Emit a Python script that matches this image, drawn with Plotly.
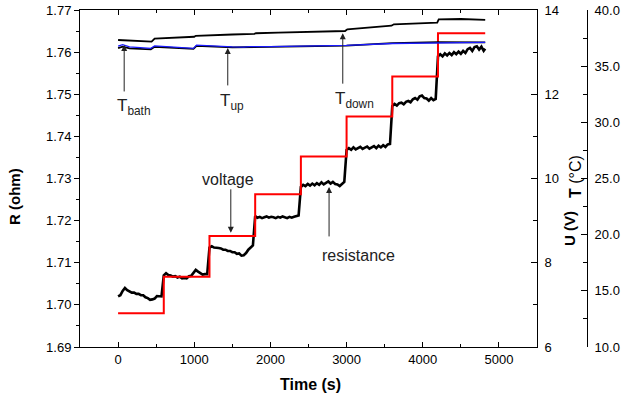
import plotly.graph_objects as go

# ---------------- data ----------------
step_starts = [0, 600, 1200, 1800, 2400, 3000, 3600, 4200]

# resistance (ohm), sampled every 30 s within each voltage step
r_step1 = [1.7020, 1.7023, 1.7033, 1.7040, 1.7035, 1.7032, 1.7029, 1.7029, 1.7026, 1.7026,
           1.7023, 1.7023, 1.7018, 1.7016, 1.7012, 1.7013, 1.7015, 1.7021, 1.7021, 1.7020]
r_step2 = [1.7070, 1.7075, 1.7071, 1.7070, 1.7067, 1.7068, 1.7065, 1.7067, 1.7063, 1.7064,
           1.7063, 1.7068, 1.7069, 1.7077, 1.7083, 1.7079, 1.7075, 1.7072, 1.7073, 1.7073]
r_step3 = [1.7136, 1.7139, 1.7136, 1.7136, 1.7135, 1.7134, 1.7131, 1.7131, 1.7128, 1.7128,
           1.7125, 1.7125, 1.7121, 1.7122, 1.7117, 1.7118, 1.7123, 1.7131, 1.7135, 1.7141]
r_step4 = [1.7211, 1.7207, 1.7209, 1.7206, 1.7208, 1.7210, 1.7207, 1.7209, 1.7208, 1.7206,
           1.7209, 1.7207, 1.7210, 1.7208, 1.7206, 1.7209, 1.7207, 1.7209, 1.7211, 1.7212]
r_step5 = [1.7280, 1.7285, 1.7282, 1.7287, 1.7283, 1.7288, 1.7284, 1.7289, 1.7285, 1.7291,
           1.7286, 1.7290, 1.7293, 1.7288, 1.7292, 1.7287, 1.7286, 1.7282, 1.7286, 1.7292]
r_step6 = [1.7368, 1.7372, 1.7368, 1.7374, 1.7369, 1.7373, 1.7375, 1.7370, 1.7374, 1.7376,
           1.7371, 1.7375, 1.7377, 1.7372, 1.7378, 1.7374, 1.7379, 1.7375, 1.7381, 1.7382]
r_step7 = [1.7472, 1.7477, 1.7473, 1.7479, 1.7480, 1.7476, 1.7482, 1.7484, 1.7481, 1.7488,
           1.7491, 1.7487, 1.7495, 1.7497, 1.7491, 1.7490, 1.7485, 1.7491, 1.7486, 1.7489]
r_step8 = [1.7590, 1.7595, 1.7590, 1.7597, 1.7592, 1.7598, 1.7593, 1.7600, 1.7595, 1.7601,
           1.7596, 1.7603, 1.7598, 1.7607, 1.7610, 1.7603, 1.7612, 1.7614, 1.7606, 1.7613,
           1.7603, 1.7608]
r_steps = [r_step1, r_step2, r_step3, r_step4, r_step5, r_step6, r_step7, r_step8]

# voltage (V) steps
u_times = [0, 600, 1200, 1800, 2400, 3000, 3600, 4200, 4820]
u_values = [6.80, 7.67, 8.635, 9.625, 10.52, 11.47, 12.42, 13.45, 13.45]

# temperatures (deg C)
t_down_times = [0, 100, 200, 300, 440, 480, 700, 1000, 1020, 1200, 1250, 1500, 1790, 1810,
                2100, 2400, 2420, 2700, 2980, 3010, 3300, 3590, 3620, 3900, 4190, 4210, 4500, 4820]
t_down_vals = [37.33, 37.30, 37.26, 37.23, 37.18, 37.45, 37.52, 37.62, 37.70, 37.72, 37.78,
               37.82, 37.87, 37.93, 37.98, 38.02, 38.07, 38.10, 38.13, 38.28, 38.45, 38.60,
               38.73, 38.80, 38.87, 39.17, 39.20, 39.12]

t_bath_times = [0, 60, 150, 300, 430, 480, 600, 900, 990, 1030, 1200, 1500, 1650, 1730,
                2000, 2500, 3000, 3600, 4200, 4820]
t_bath_vals = [36.78, 36.92, 36.72, 36.65, 36.58, 36.80, 36.75, 36.62, 36.58, 36.88, 36.80,
               36.72, 36.70, 36.74, 36.74, 36.77, 36.85, 37.02, 37.10, 37.12]

t_up_times = [0, 60, 150, 430, 480, 990, 1030, 1500, 2000, 2500, 3000, 3600, 4200, 4820]
t_up_vals = [36.60, 36.74, 36.58, 36.50, 36.72, 36.54, 36.80, 36.68, 36.72, 36.75, 36.82,
             37.06, 37.14, 37.12]

# ---------------- build resistance series ----------------
r_time, r_vals = [], []
for start, vals in zip(step_starts, r_steps):
    for k, v in enumerate(vals):
        r_time.append(start + 30 * k)
        r_vals.append(v)
r_time[-1] = 4820

FONT = "Liberation Sans, Arial, sans-serif"

fig = go.Figure()
fig.add_trace(go.Scatter(x=r_time, y=r_vals, mode="lines", line=dict(color="black", width=2.6),
                         yaxis="y", showlegend=False))
fig.add_trace(go.Scatter(x=u_times, y=u_values, mode="lines", line=dict(color="#ff0000", width=2, shape="hv"),
                         yaxis="y2", showlegend=False))
fig.add_trace(go.Scatter(x=t_up_times, y=t_up_vals, mode="lines", line=dict(color="black", width=1.8),
                         yaxis="y3", showlegend=False))
fig.add_trace(go.Scatter(x=t_bath_times, y=t_bath_vals, mode="lines", line=dict(color="#1a1aff", width=1.3),
                         yaxis="y3", showlegend=False))
fig.add_trace(go.Scatter(x=t_down_times, y=t_down_vals, mode="lines", line=dict(color="black", width=1.8),
                         yaxis="y3", showlegend=False))

L, R, T, B = 80, 37, 10, 54
W, H = 624, 401
PW, PH = W - L - R, H - T - B
xdom_end = (537 - L) / PW


def px(xp):
    return (xp - L) / PW


def py(yp):
    return (H - B - yp) / PH


fig.update_layout(
    width=W, height=H, margin=dict(l=L, r=R, t=T, b=B, autoexpand=False),
    paper_bgcolor="white", plot_bgcolor="white",
    font=dict(family=FONT, size=13, color="black"),
    xaxis=dict(domain=[0, xdom_end], range=[-500, 5500], dtick=1000, tick0=0,
               ticks="inside", ticklen=5, tickwidth=1, tickcolor="black",
               minor=dict(ticks="inside", ticklen=3, dtick=500, tick0=0, tickcolor="black"),
               showline=True, linecolor="black", linewidth=1, mirror="ticks", automargin=False,
               showgrid=False, zeroline=False, tickfont=dict(size=13)),
    yaxis=dict(range=[1.69, 1.77], dtick=0.01, tick0=1.69, tickformat=".2f",
               ticks="outside", ticklen=5, tickwidth=1, tickcolor="black",
               minor=dict(ticks="outside", ticklen=3, dtick=0.005, tickcolor="black"),
               showline=True, linecolor="black", linewidth=1, mirror=True, automargin=False,
               showgrid=False, zeroline=False, tickfont=dict(size=13)),
    yaxis2=dict(overlaying="y", side="right", anchor="x", range=[6, 14], dtick=2, tick0=6,
                ticks="inside", ticklen=6, tickwidth=1, tickcolor="black",
                minor=dict(ticks="inside", ticklen=4, dtick=1, tickcolor="black"),
                showline=True, linecolor="black", linewidth=1, ticklabelstandoff=4, automargin=False,
                showgrid=False, zeroline=False, tickfont=dict(size=13)),
    yaxis3=dict(overlaying="y", side="right", anchor="free", position=1.0, range=[10, 40],
                dtick=5, tick0=10, tickformat=".1f",
                ticks="inside", ticklen=6, tickwidth=1, tickcolor="black",
                minor=dict(ticks="inside", ticklen=4, dtick=2.5, tickcolor="black"),
                showline=True, linecolor="black", linewidth=1, ticklabelstandoff=4, automargin=False,
                showgrid=False, zeroline=False, tickfont=dict(size=13)),
)

ann = []
# axis titles
ann.append(dict(text="<b>Time (s)</b>", x=px(310), y=py(385), xref="paper", yref="paper",
                showarrow=False, font=dict(size=16), xanchor="center", yanchor="middle"))
ann.append(dict(text="<b>R (ohm)</b>", x=px(15), y=py(197), xref="paper", yref="paper",
                showarrow=False, font=dict(size=15), textangle=-90, xanchor="center", yanchor="middle"))
ann.append(dict(text="<b>U (V)</b>", x=px(569), y=py(229), xref="paper", yref="paper",
                showarrow=False, font=dict(size=15), textangle=-90, xanchor="center", yanchor="middle"))
ann.append(dict(text="<b>T</b> (°C)", x=px(575), y=py(177), xref="paper", yref="paper",
                showarrow=False, font=dict(size=16), textangle=-90, xanchor="center", yanchor="middle"))

# arrows (empty text) : head at data point, tail offset in pixels
arrow_style = dict(showarrow=True, arrowhead=2, arrowsize=1.2, arrowwidth=1, arrowcolor="#222",
                   ax=0, text="", xref="x", yref="y")
ann.append(dict(x=80, y=1.7617, ay=48, **arrow_style))      # T_bath
ann.append(dict(x=1440, y=1.7610, ay=39, **arrow_style))    # T_up
ann.append(dict(x=2950, y=1.7645, ay=52, **arrow_style))    # T_down
ann.append(dict(x=1480, y=1.7171, ay=-45, **arrow_style))   # voltage
ann.append(dict(x=2770, y=1.7280, ay=51, **arrow_style))    # resistance

lab = dict(showarrow=False, xref="paper", yref="paper", xanchor="center", yanchor="middle",
           font=dict(size=17, color="#222"))
ann.append(dict(text="T<sub>bath</sub>", x=px(134), y=py(107), **lab))
ann.append(dict(text="T<sub>up</sub>", x=px(232), y=py(102), **lab))
ann.append(dict(text="T<sub>down</sub>", x=px(354), y=py(100), **lab))
lab2 = dict(lab)
lab2["font"] = dict(size=16, color="#222")
ann.append(dict(text="voltage", x=px(228), y=py(179), **lab2))
ann.append(dict(text="resistance", x=px(358), y=py(255), **lab2))

fig.update_layout(annotations=ann)
fig.write_html("out.html", config={"displayModeBar": False},
               post_script="document.body.style.margin='0';document.body.style.padding='0';")
